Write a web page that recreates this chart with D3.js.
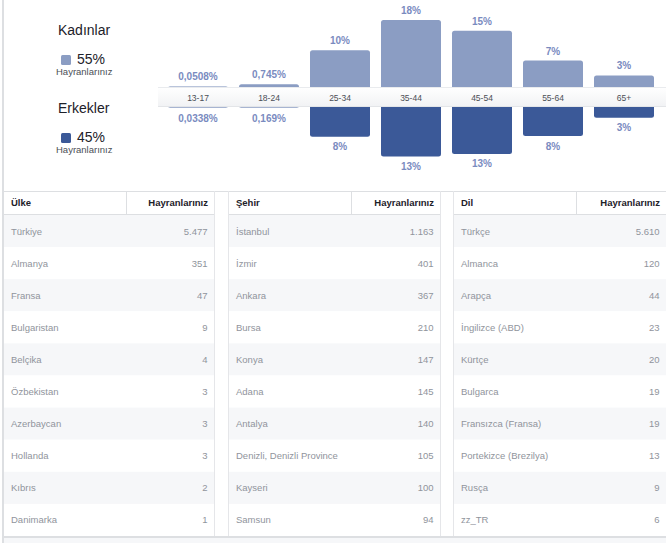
<!DOCTYPE html>
<html>
<head>
<meta charset="utf-8">
<script src="https://cdn.jsdelivr.net/npm/d3@7"></script>
<style>
  html, body { margin: 0; padding: 0; background: #fff; }
  svg { display: block; font-family: "Liberation Sans", Arial, sans-serif; }
</style>
</head>
<body>
<svg id="chart" width="666" height="543"></svg>
<script>
const ageGroups = ['13-17', '18-24', '25-34', '35-44', '45-54', '55-64', '65+'];
const femaleShare = [0.0508, 0.745, 9.9, 18, 15.1, 7.1, 3.1];
const maleShare = [0.0338, 0.169, 8.0, 13.3, 12.6, 7.8, 2.9];

const genderNames = ['Kadınlar', 'Erkekler'];
const genderTotals = [55, 45];
const fansLabel = 'Hayranlarınız';

const countries = ['Türkiye', 'Almanya', 'Fransa', 'Bulgaristan', 'Belçika', 'Özbekistan', 'Azerbaycan', 'Hollanda', 'Kıbrıs', 'Danimarka'];
const countryFans = [5477, 351, 47, 9, 4, 3, 3, 3, 2, 1];
const cities = ['İstanbul', 'İzmir', 'Ankara', 'Bursa', 'Konya', 'Adana', 'Antalya', 'Denizli, Denizli Province', 'Kayseri', 'Samsun'];
const cityFans = [1163, 401, 367, 210, 147, 145, 140, 105, 100, 94];
const languages = ['Türkçe', 'Almanca', 'Arapça', 'İngilizce (ABD)', 'Kürtçe', 'Bulgarca', 'Fransızca (Fransa)', 'Portekizce (Brezilya)', 'Rusça', 'zz_TR'];
const languageFans = [5610, 120, 44, 23, 20, 19, 19, 13, 9, 6];

const female = '#8b9dc3';
const male = '#3b5998';
const labelColor = '#7a8bbf';
const border = '#dddfe2';

const trLocale = d3.formatLocale({ decimal: ',', thousands: '.', grouping: [3], currency: ['', '₺'] });
const fmtCount = trLocale.format(',d');
const fmtSmall = trLocale.format('.3~r');
const fmtPct = v => (v < 1 ? fmtSmall(v) : Math.round(v)) + '%';

const svg = d3.select('#chart');

// panel left edge
svg.append('rect').attr('x', 2).attr('y', 0).attr('width', 2).attr('height', 543).attr('fill', border);

// ---- legend
const legendRows = [0, 78];
genderNames.forEach((name, i) => {
  const g = svg.append('g').attr('transform', `translate(0,${legendRows[i]})`);
  g.append('text').attr('x', 58).attr('y', 35)
    .style('font-size', '14px').style('fill', '#1d2129').text(name);
  g.append('rect').attr('x', 61).attr('y', 55).attr('width', 10).attr('height', 10)
    .attr('rx', 1.5).attr('fill', i === 0 ? female : male);
  g.append('text').attr('x', 77).attr('y', 64)
    .style('font-size', '14px').style('fill', '#1d2129').text(genderTotals[i] + '%');
  g.append('text').attr('x', 56).attr('y', 74.5)
    .style('font-size', '9.5px').style('fill', '#4b4f56').text(fansLabel);
});

// ---- age chart
const bandTop = 87;
const bandBottom = 107;

const x = d3.scaleBand()
  .domain(ageGroups)
  .range([162.5, 659.5])
  .paddingInner(0.155)
  .paddingOuter(0.0775);

const h = d3.scaleLinear().domain([0, 18]).range([0, 67]);

const barH = v => Math.max(1, h(v));

svg.append('g').selectAll('rect')
  .data(femaleShare)
  .join('rect')
  .attr('x', (d, i) => x(ageGroups[i]))
  .attr('y', d => bandTop - barH(d))
  .attr('width', x.bandwidth())
  .attr('height', d => barH(d) + 4)
  .attr('rx', 2.5)
  .attr('fill', female)
  .attr('fill-opacity', d => (h(d) < 1 ? 0.6 : 1));

svg.append('g').selectAll('rect')
  .data(maleShare)
  .join('rect')
  .attr('x', (d, i) => x(ageGroups[i]))
  .attr('y', bandBottom - 4)
  .attr('width', x.bandwidth())
  .attr('height', d => barH(d) + 4)
  .attr('rx', 2.5)
  .attr('fill', male)
  .attr('fill-opacity', d => (h(d) < 1 ? 0.45 : 1));

const defs = svg.append('defs');
const grad = defs.append('linearGradient').attr('id', 'band').attr('x1', 0).attr('y1', 0).attr('x2', 0).attr('y2', 1);
grad.append('stop').attr('offset', '0%').attr('stop-color', '#ffffff');
grad.append('stop').attr('offset', '100%').attr('stop-color', '#f1f2f4');

svg.append('rect').attr('x', 158).attr('y', bandTop).attr('width', 508).attr('height', bandBottom - bandTop)
  .attr('fill', 'url(#band)');
svg.append('line').attr('x1', 158).attr('x2', 666).attr('y1', bandTop + 0.5).attr('y2', bandTop + 0.5)
  .attr('stroke', '#e9ebee');
svg.append('line').attr('x1', 158).attr('x2', 666).attr('y1', bandBottom - 0.5).attr('y2', bandBottom - 0.5)
  .attr('stroke', '#e3e5e8');

svg.append('g').selectAll('text')
  .data(ageGroups)
  .join('text')
  .attr('x', d => x(d) + x.bandwidth() / 2)
  .attr('y', 100.5)
  .attr('text-anchor', 'middle')
  .style('font-size', '8.5px')
  .style('fill', '#4b4f56')
  .text(d => d);

svg.append('g').selectAll('text')
  .data(femaleShare)
  .join('text')
  .attr('x', (d, i) => x(ageGroups[i]) + x.bandwidth() / 2)
  .attr('y', d => bandTop - barH(d) - 6)
  .attr('text-anchor', 'middle')
  .style('font-size', '10px')
  .style('font-weight', 'bold')
  .style('fill', labelColor)
  .text(fmtPct);

svg.append('g').selectAll('text')
  .data(maleShare)
  .join('text')
  .attr('x', (d, i) => x(ageGroups[i]) + x.bandwidth() / 2)
  .attr('y', d => bandBottom + barH(d) + 13.5)
  .attr('text-anchor', 'middle')
  .style('font-size', '10px')
  .style('font-weight', 'bold')
  .style('fill', labelColor)
  .text(fmtPct);

// ---- tables
const tableTop = 191;
const headTop = 192;
const headBottom = 214;
const rowY = d3.scaleBand().domain(d3.range(10)).range([215, 536]);

svg.append('line').attr('x1', 4).attr('x2', 666).attr('y1', tableTop + 0.5).attr('y2', tableTop + 0.5)
  .attr('stroke', border);

const tables = [
  { left: 4, right: 214, title: 'Ülke', names: countries, values: countryFans },
  { left: 229, right: 440, title: 'Şehir', names: cities, values: cityFans },
  { left: 454, right: 666, title: 'Dil', names: languages, values: languageFans },
];

tables.forEach(t => {
  const g = svg.append('g');
  const w = t.right - t.left;

  g.selectAll('rect.row')
    .data(t.names)
    .join('rect')
    .attr('class', 'row')
    .attr('x', t.left)
    .attr('y', (d, i) => rowY(i))
    .attr('width', w)
    .attr('height', rowY.step())
    .attr('fill', (d, i) => (i % 2 === 0 ? '#f6f7f9' : '#ffffff'));

  g.append('line').attr('x1', t.left).attr('x2', t.right)
    .attr('y1', headBottom + 0.5).attr('y2', headBottom + 0.5).attr('stroke', border);
  g.append('line').attr('x1', t.left + 122.5).attr('x2', t.left + 122.5)
    .attr('y1', headTop).attr('y2', headBottom).attr('stroke', border);
  if (t.left > 10) {
    g.append('line').attr('x1', t.left - 0.5).attr('x2', t.left - 0.5)
      .attr('y1', tableTop).attr('y2', 537).attr('stroke', '#e5e6e9');
  }
  if (t.right < 660) {
    g.append('line').attr('x1', t.right + 0.5).attr('x2', t.right + 0.5)
      .attr('y1', tableTop).attr('y2', 537).attr('stroke', '#e5e6e9');
  }

  g.append('text').attr('x', t.left + 7).attr('y', 206)
    .style('font-size', '9.5px').style('font-weight', 'bold').style('fill', '#1d2129')
    .text(t.title);
  g.append('text').attr('x', t.right - 6).attr('y', 206)
    .attr('text-anchor', 'end')
    .style('font-size', '9.5px').style('font-weight', 'bold').style('fill', '#1d2129')
    .text(fansLabel);

  g.selectAll('text.name')
    .data(t.names)
    .join('text')
    .attr('class', 'name')
    .attr('x', t.left + 7)
    .attr('y', (d, i) => rowY(i) + rowY.step() / 2 + 3.5)
    .style('font-size', '9.5px')
    .style('fill', '#90949c')
    .text(d => d);

  g.selectAll('text.value')
    .data(t.values)
    .join('text')
    .attr('class', 'value')
    .attr('x', t.right - 6.5)
    .attr('y', (d, i) => rowY(i) + rowY.step() / 2 + 3.5)
    .attr('text-anchor', 'end')
    .style('font-size', '9.5px')
    .style('fill', '#90949c')
    .text(fmtCount);
});

// bottom edge
svg.append('rect').attr('x', 4).attr('y', 537).attr('width', 662).attr('height', 6).attr('fill', '#f6f7f9');
svg.append('line').attr('x1', 4).attr('x2', 666).attr('y1', 537).attr('y2', 537)
  .attr('stroke', border).attr('stroke-width', 2);
</script>
</body>
</html>
